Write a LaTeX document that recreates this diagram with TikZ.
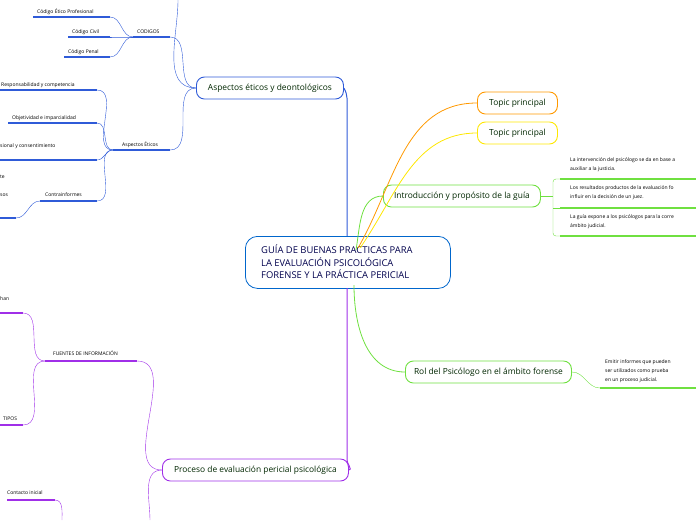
\documentclass[tikz,border=0pt]{standalone}
\usepackage{fontspec}
\setmainfont{Open Sans}
\begin{document}
\begin{tikzpicture}[x=1pt,y=-1pt,
  bl/.style={draw=blue!70!black!80,line width=0.6pt},
  topic/.style={draw,rounded corners=8pt,line width=0.9pt,minimum height=22pt,font=\fontsize{8.4}{9}\selectfont,text=black!70!green!50!black,anchor=west,inner xsep=8pt},
  sub/.style={font=\fontsize{5}{6}\selectfont,inner sep=0pt,anchor=base west},
  ul/.style={line width=1.4pt}]
\useasboundingbox (0,0) rectangle (696,520);
\definecolor{cb}{HTML}{2F5BD8}
\definecolor{cp}{HTML}{A02FE8}
\definecolor{cg}{HTML}{6FE040}
% center
\node[draw=blue!50!cyan!80!black,rounded corners=12pt,line width=0.8pt,minimum width=205pt,minimum height=52pt,anchor=north west,inner sep=0pt] (c) at (245,236) {};
\node[anchor=west,align=left,inner sep=0pt,font=\fontsize{9.4}{12.5}\selectfont,text=blue!30!black] (ct) at (261,262) {GUÍA DE BUENAS PRACTICAS PARA\\LA EVALUACIÓN PSICOLÓGICA\\FORENSE Y LA PRÁCTICA PERICIAL};
% main topics
\node[topic,draw=cb,minimum width=147pt] (asp) at (196,88) {Aspectos éticos y deontológicos};
\node[topic,draw=cp,minimum width=186pt] (proc) at (162,470) {Proceso de evaluación pericial psicológica};
\node[topic,draw=orange!80!yellow,minimum width=80pt] (t1) at (477,103) {Topic principal};
\node[topic,draw=yellow!90!orange,minimum width=80pt] (t2) at (477,133) {Topic principal};
\node[topic,draw=cg,minimum width=157pt] (intro) at (383,196) {Introducción y propósito de la guía};
\node[topic,draw=cg,minimum width=166pt] (rol) at (405,372) {Rol del Psicólogo en el ámbito forense};
% connectors from center
\draw[cb,line width=1pt] (asp.east) to[out=-60,in=90] (347,110) -- (347,236);
\draw[cp,line width=1pt] (347,288) -- (347,460) to[out=-90,in=0] (proc.east);
\draw[orange!80!yellow,line width=0.8pt] (358,248) to[out=60,in=180] (t1.west);
\draw[yellow!90!orange,line width=0.8pt] (360,248) to[out=55,in=180] (t2.west);
\draw[cg,line width=0.8pt] (356,250) to[out=80,in=180] (intro.west);
\draw[cg,line width=0.8pt] (354,285) to[out=-90,in=180] (rol.west);
% Aspectos subtree
\node[sub] (codt) at (137,33) {CODIGOS};
\draw[cb,ul] (133,37) -- (170,37);
\node[sub] (aet) at (122,146) {Aspectos Éticos};
\draw[cb,ul] (113,150) -- (170,150);
\draw[cb] (asp.west) to[out=180,in=0] (170,37);
\draw[cb] (asp.west) to[out=180,in=0] (170,150);
\draw[cb] (asp.west) to[out=180,in=-90] (178,0);
\foreach \y/\x/\t in {17/33/Código Ético Profesional,37/68/Código Civil,57/64/Código Penal}{
  \node[sub] at (\x+4,\y-4) {\t};
  \draw[cb,ul] (\x,\y) -- (110,\y);
  \draw[cb] (133,37) to[out=180,in=0] (110,\y);}
\foreach \y/\x in {90/0,123/8,160/0,201/40}{
  \draw[cb,ul] (\x,\y) -- (97,\y);
  \draw[cb] (113,150) to[out=180,in=0] (97,\y);}
\node[sub] at (1,86) {Responsabilidad y competencia};
\node[sub] at (12,119) {Objetividad e imparcialidad};
\node[sub] at (0,147) {sional y consentimiento};
\node[sub] at (45,196) {Contrainformes};
\node[sub] at (0,178) {te};
\node[sub] at (0,196) {sos};
\draw[cb,ul] (0,218) -- (16,218);
\draw[cb] (40,201) to[out=180,in=0] (16,218);
% Proceso subtree
\node[sub] at (53,355) {FUENTES DE INFORMACIÓN};
\draw[cp,ul] (45,361) -- (137,361);
\draw[cp] (proc.west) to[out=180,in=0] (137,361);
\draw[cp] (proc.west) to[out=180,in=90] (150,520);
\node[sub] at (0,300) {han};
\draw[cp,ul] (0,313) -- (23,313);
\draw[cp] (45,361) to[out=180,in=0] (23,313);
\node[sub] at (3,420) {TIPOS};
\draw[cp,ul] (0,425) -- (23,425);
\draw[cp] (45,361) to[out=180,in=0] (23,425);
\node[sub] at (7,494) {Contacto inicial};
\draw[cp,ul] (7,500) -- (55,500);
\draw[cp] (55,500) to[out=0,in=90] (62,520);
% Intro subtree
\draw[cg] (intro.east) -- (553,196);
\draw[cg,rounded corners=3pt] (696,179) -- (553,179) -- (553,236) -- (696,236);
\draw[cg] (553,208) -- (696,208);
\draw[cg,ul] (560,179) -- (696,179);
\draw[cg,ul] (560,208) -- (696,208);
\draw[cg,ul] (560,236) -- (696,236);
\node[sub,align=left,anchor=north west,font=\fontsize{5}{9}\selectfont] at (570,157) {La intervención del psicólogo se da en base a\\auxiliar a la justicia.};
\node[sub,align=left,anchor=north west,font=\fontsize{5}{9}\selectfont] at (570,185) {Los resultados productos de la evaluación fo\\influir en la decisión de un juez.};
\node[sub,align=left,anchor=north west,font=\fontsize{5}{9}\selectfont] at (570,214) {La guía expone a los psicólogos para la corre\\ámbito judicial.};
% Rol subtree
\node[sub,align=left,anchor=north west,font=\fontsize{5}{9}\selectfont] at (605,359) {Emitir informes que pueden\\ser utilizados como prueba\\en un proceso judicial.};
\draw[cg,ul] (600,388) -- (696,388);
\draw[cg] (rol.east) to[out=0,in=180] (600,388);
\end{tikzpicture}
\end{document}
